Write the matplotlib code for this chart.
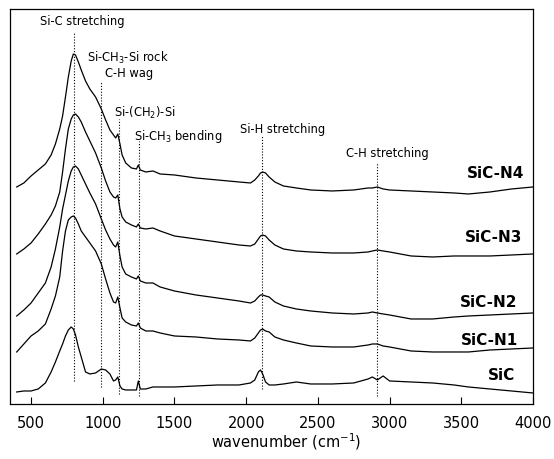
import matplotlib
matplotlib.use("Agg")
import matplotlib.pyplot as plt
import numpy as np

plt.rcParams["font.family"] = ["DejaVu Sans"]
plt.rcParams["mathtext.fontset"] = "dejavusans"

# Wavenumber grid (cm^-1) shared by all spectra
wavenumber = [
    400, 450, 500, 550, 600, 640, 670, 700, 720, 740,
    760, 780, 795, 810, 830, 850, 880, 910, 950, 990,
    1020, 1050, 1075, 1090, 1105, 1120, 1135, 1160, 1200, 1235,
    1248, 1262, 1300, 1350, 1400, 1500, 1650, 1800, 1950, 2030,
    2060, 2085, 2100, 2115, 2135, 2160, 2200, 2260, 2350, 2450,
    2600, 2750, 2850, 2880, 2915, 2955, 3000, 3150, 3300, 3450,
    3550, 3700, 3850, 4000,
]

# Stacked absorbance (arbitrary units) of each film
abs_sic_n4 = [
    2.17, 2.21, 2.28, 2.34, 2.40, 2.49, 2.60, 2.75, 2.88, 3.07,
    3.27, 3.43, 3.50, 3.49, 3.42, 3.34, 3.23, 3.15, 3.07, 2.95,
    2.84, 2.74, 2.69, 2.66, 2.70, 2.60, 2.49, 2.41, 2.36, 2.35,
    2.39, 2.34, 2.32, 2.33, 2.30, 2.29, 2.26, 2.24, 2.22, 2.21,
    2.24, 2.28, 2.31, 2.32, 2.31, 2.27, 2.22, 2.18, 2.16, 2.14,
    2.13, 2.14, 2.16, 2.16, 2.17, 2.15, 2.14, 2.13, 2.12, 2.11,
    2.10, 2.12, 2.15, 2.17,
]
abs_sic_n3 = [
    1.50, 1.55, 1.61, 1.70, 1.80, 1.89, 1.98, 2.12, 2.32, 2.55,
    2.75, 2.85, 2.89, 2.90, 2.87, 2.82, 2.72, 2.63, 2.51, 2.36,
    2.23, 2.12, 2.07, 2.06, 2.09, 1.95, 1.87, 1.82, 1.79, 1.77,
    1.80, 1.76, 1.75, 1.76, 1.73, 1.68, 1.65, 1.62, 1.59, 1.58,
    1.60, 1.65, 1.68, 1.69, 1.68, 1.64, 1.59, 1.55, 1.53, 1.52,
    1.51, 1.51, 1.52, 1.53, 1.54, 1.53, 1.52, 1.48, 1.47, 1.48,
    1.48, 1.48, 1.49, 1.50,
]
abs_sic_n2 = [
    0.88, 0.94, 1.01, 1.11, 1.21, 1.37, 1.55, 1.77, 1.95, 2.09,
    2.23, 2.33, 2.37, 2.38, 2.35, 2.29, 2.20, 2.11, 2.00, 1.85,
    1.74, 1.65, 1.59, 1.57, 1.62, 1.48, 1.37, 1.30, 1.27, 1.25,
    1.28, 1.23, 1.21, 1.21, 1.17, 1.13, 1.09, 1.06, 1.03, 1.01,
    1.03, 1.07, 1.09, 1.09, 1.08, 1.07, 1.02, 0.98, 0.95, 0.93,
    0.91, 0.90, 0.91, 0.92, 0.91, 0.90, 0.89, 0.85, 0.85, 0.87,
    0.88, 0.89, 0.90, 0.91,
]
abs_sic_n1 = [
    0.52, 0.60, 0.68, 0.73, 0.80, 0.95, 1.08, 1.27, 1.53, 1.73,
    1.84, 1.87, 1.88, 1.86, 1.80, 1.73, 1.67, 1.61, 1.53, 1.40,
    1.25, 1.11, 1.02, 1.01, 1.07, 0.96, 0.86, 0.82, 0.79, 0.78,
    0.81, 0.76, 0.73, 0.73, 0.71, 0.68, 0.67, 0.65, 0.64, 0.63,
    0.66, 0.71, 0.74, 0.75, 0.73, 0.72, 0.67, 0.64, 0.61, 0.58,
    0.57, 0.57, 0.59, 0.60, 0.60, 0.58, 0.57, 0.53, 0.52, 0.52,
    0.52, 0.54, 0.55, 0.56,
]
abs_sic = [
    0.12, 0.13, 0.13, 0.15, 0.21, 0.32, 0.42, 0.53, 0.60, 0.68,
    0.74, 0.77, 0.75, 0.69, 0.57, 0.47, 0.32, 0.30, 0.31, 0.35,
    0.34, 0.30, 0.23, 0.24, 0.27, 0.18, 0.15, 0.14, 0.14, 0.14,
    0.23, 0.15, 0.15, 0.17, 0.17, 0.17, 0.18, 0.19, 0.19, 0.21,
    0.24, 0.32, 0.34, 0.30, 0.22, 0.19, 0.19, 0.20, 0.22, 0.20,
    0.20, 0.21, 0.25, 0.27, 0.24, 0.28, 0.23, 0.22, 0.21, 0.19,
    0.17, 0.15, 0.13, 0.11,
]

sample_names = ["SiC-N4", "SiC-N3", "SiC-N2", "SiC-N1", "SiC"]
spectra = [abs_sic_n4, abs_sic_n3, abs_sic_n2, abs_sic_n1, abs_sic]

# Band assignments and their wavenumbers
band_labels = [
    "Si-C stretching",
    r"Si-CH$_3$-Si rock",
    "C-H wag",
    r"Si-(CH$_2$)-Si",
    r"Si-CH$_3$ bending",
    "Si-H stretching",
    "C-H stretching",
]
band_wavenumber = [800, 990, 1110, 1250, 2110, 2915]

x_ticks = [500, 1000, 1500, 2000, 2500, 3000, 3500, 4000]

fig = plt.figure(figsize=(5.54, 4.60), dpi=100)
ax = fig.add_axes([0.0172, 0.1196, 0.9449, 0.8587])

for values in spectra:
    ax.plot(wavenumber, values, color="black", lw=0.9)

# dotted guides marking each band
guide_top = [3.72, 3.23, 2.85, 2.63, 2.68, 2.42]
guide_bottom = [0.23, 0.17, 0.10, 0.08, 0.15, 0.08]
ax.vlines(band_wavenumber, guide_bottom, guide_top, colors="black",
          linestyles=(0, (1.0, 1.6)), lw=0.8)

# band labels (centred above their guides)
label_xy = [(856, 3.83), (1177, 3.47), (1180, 3.31), (1295, 2.92),
            (1525, 2.68), (2257, 2.75), (2987, 2.51)]
for text, (x, y) in zip(band_labels, label_xy):
    ax.text(x, y, text, ha="center", va="center", fontsize=8.3)

# sample names at the right end of each trace
name_xy = [(3938, 2.31), (3922, 1.67), (3888, 1.02), (3895, 0.64), (3875, 0.29)]
for text, (x, y) in zip(sample_names, name_xy):
    ax.text(x, y, text, ha="right", va="center", fontsize=11,
            fontweight="bold")

ax.set_xlim(350, 4000)
ax.set_ylim(0, 3.95)
ax.set_xticks(x_ticks)
ax.set_xticklabels([str(t) for t in x_ticks])
ax.set_yticks([])
ax.tick_params(axis="x", direction="in", length=5, width=0.8,
               labelsize=10.5, pad=8)
for side in ["left", "right", "top", "bottom"]:
    ax.spines[side].set_linewidth(0.9)
    ax.spines[side].set_color("black")

ax.set_xlabel(r"wavenumber (cm$^{-1}$)", fontsize=10.5)
ax.xaxis.set_label_coords(0.528, -0.066)

fig.savefig("out.png", dpi=100)
